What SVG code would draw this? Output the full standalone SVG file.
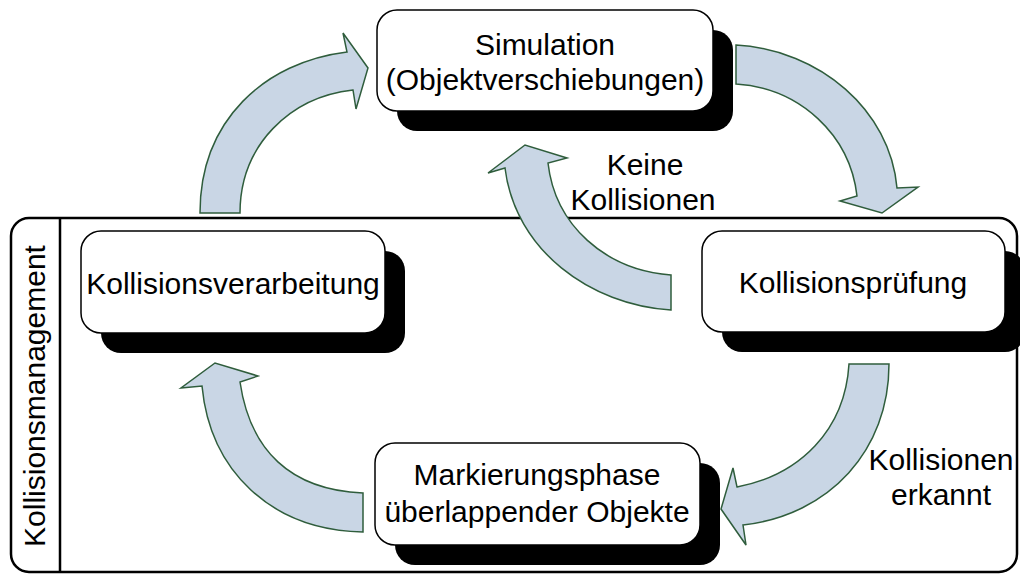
<svg xmlns="http://www.w3.org/2000/svg" width="1020" height="574" viewBox="0 0 1020 574">
<style>
.t{font-family:"Liberation Sans",Arial,sans-serif;font-size:30px;fill:#000;text-anchor:middle}
.box{fill:#fff;stroke:#000;stroke-width:1.5}
.sh{fill:#000}
.arr{fill:#c9d6e5;stroke:#2f5d3c;stroke-width:1.5;stroke-linejoin:miter}
</style>
<rect width="1020" height="574" fill="#fff"/>
<g id="container">
<rect x="11" y="218" width="1006" height="354" rx="18" fill="none" stroke="#000" stroke-width="2.5"/>
<line x1="60" y1="218" x2="60" y2="572" stroke="#000" stroke-width="2.5"/>
<text class="t" transform="translate(45,396) rotate(-90)">Kollisionsmanagement</text>
</g>
<g id="connectors">
<path class="arr" d="M200,213 C200,120 265,62 347,52 L343,33 L368,68 L356,109 L353,90 C290,97 240,145 240,213 Z"/>
<path class="arr" d="M736,45 C820,50 890,110 897,188 L918,187 L882,213 L840,201 L857,196 C850,135 800,88 736,84 Z"/>
<path class="arr" d="M671,310 C590,305 515,250 505,168 L488,173 L525,145 L567,158 L548,163 C555,225 605,270 671,275 Z"/>
<path class="arr" d="M849,364 C845,430 800,475 737,487 L733,468 L721,509 L746,545 L743,525 C830,515 889,450 889,364 Z"/>
<path class="arr" d="M363,532 C270,530 210,470 202,386 L181,388 L215,363 L258,376 L240,382 C250,450 290,490 363,493 Z"/>
<text class="t" x="645" y="175">Keine</text>
<text class="t" x="643" y="210">Kollisionen</text>
<text class="t" x="941" y="470">Kollisionen</text>
<text class="t" x="941" y="505">erkannt</text>
</g>
<g id="simulation">
<rect class="sh" x="397" y="30" width="336" height="101" rx="20"/>
<rect class="box" x="377" y="10" width="336" height="101" rx="20"/>
<text class="t" x="545" y="55">Simulation</text>
<text class="t" x="545" y="90">(Objektverschiebungen)</text>
</g>
<g id="kollisionsverarbeitung">
<rect class="sh" x="101" y="251" width="304" height="102" rx="20"/>
<rect class="box" x="81" y="231" width="304" height="102" rx="20"/>
<text class="t" x="233" y="294">Kollisionsverarbeitung</text>
</g>
<g id="kollisionspruefung">
<rect class="sh" x="722" y="251" width="303" height="101" rx="20"/>
<rect class="box" x="702" y="231" width="303" height="101" rx="20"/>
<text class="t" x="853" y="293">Kollisionsprüfung</text>
</g>
<g id="markierungsphase">
<rect class="sh" x="395" y="463" width="325" height="102" rx="20"/>
<rect class="box" x="375" y="443" width="325" height="102" rx="20"/>
<text class="t" x="537" y="485">Markierungsphase</text>
<text class="t" x="537" y="522">überlappender Objekte</text>
</g>
</svg>
